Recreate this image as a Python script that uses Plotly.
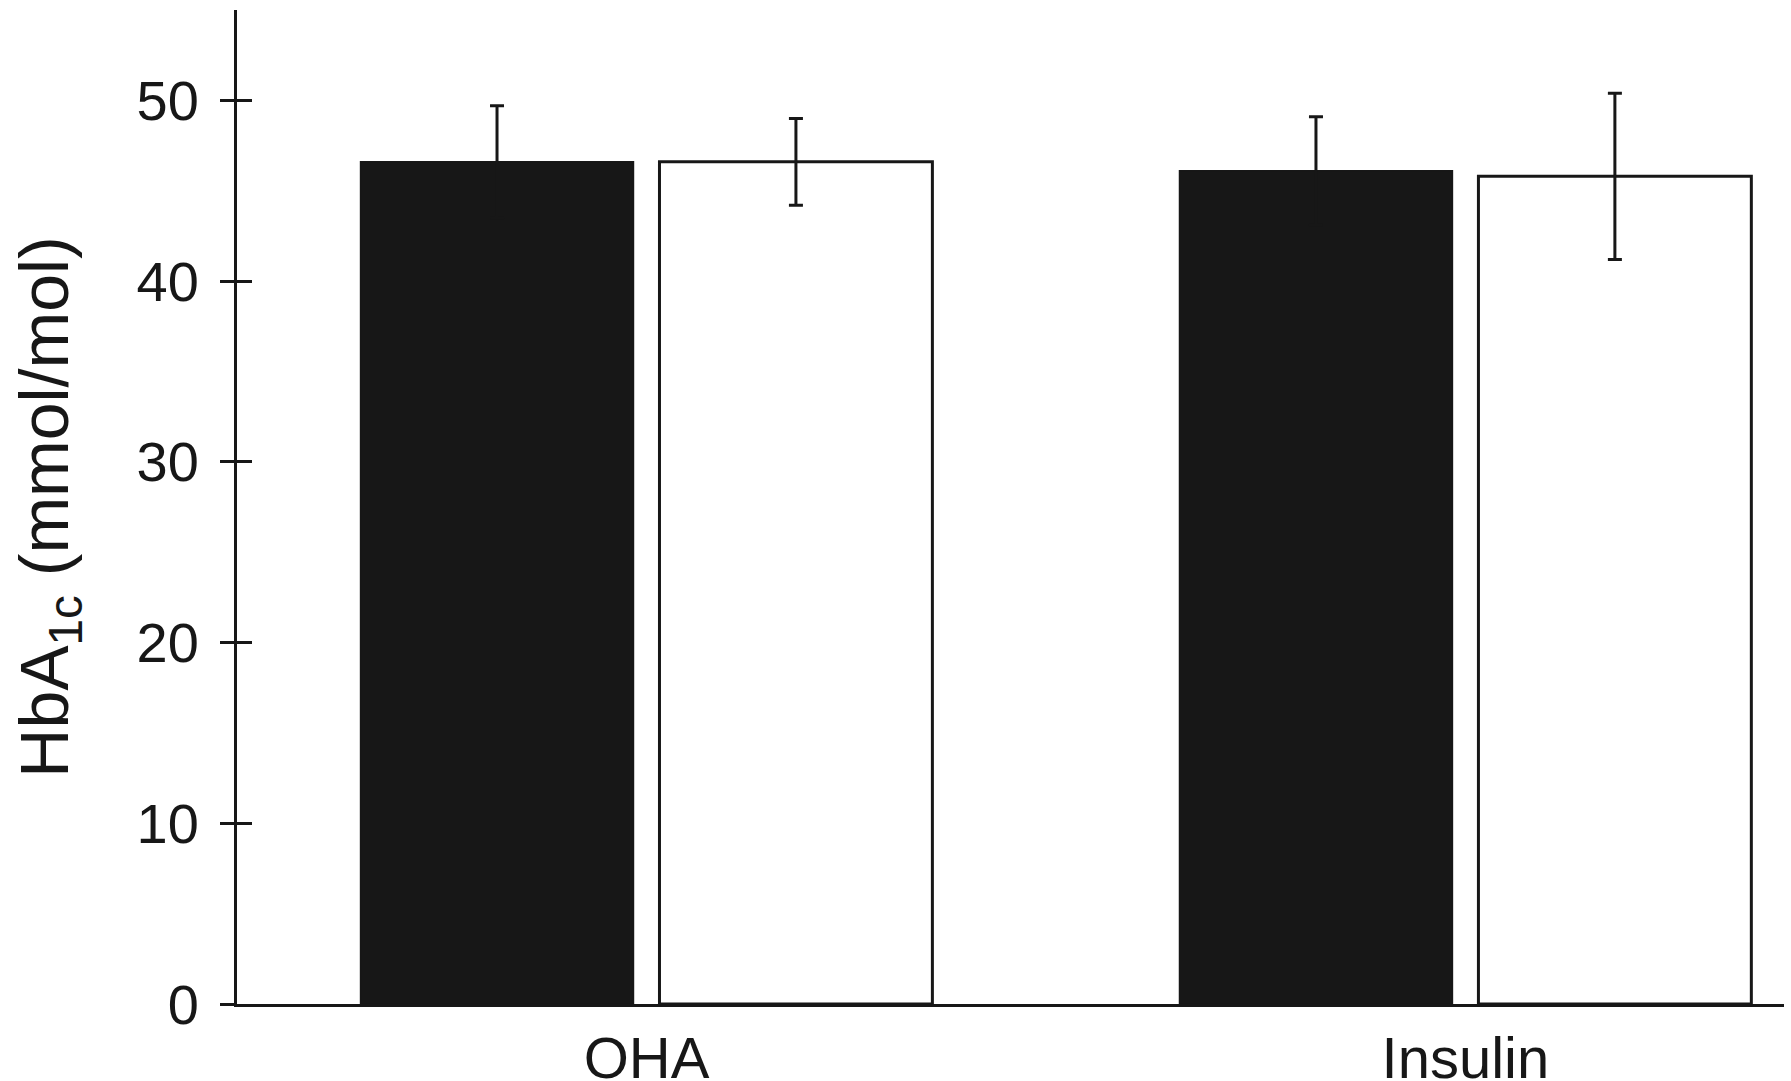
import plotly.graph_objects as go

categories = ["OHA", "Insulin"]
black_values = [46.6, 46.1]
black_errors = [3.1, 3.0]
white_values = [46.6, 45.8]
white_errors = [2.4, 4.6]
y_ticks = [0, 10, 20, 30, 40, 50]

FONT = "Liberation Sans, Arial, Helvetica, sans-serif"
INK = "#171717"

fig = go.Figure()
fig.add_trace(go.Bar(
    x=categories, y=black_values, name="black",
    marker=dict(color=INK, line=dict(color=INK, width=1.5)),
    error_y=dict(type="data", array=black_errors, visible=True,
                 color=INK, thickness=3, width=7),
))
fig.add_trace(go.Bar(
    x=categories, y=white_values, name="white",
    marker=dict(color="white", line=dict(color=INK, width=3)),
    error_y=dict(type="data", array=white_errors, visible=True,
                 color=INK, thickness=3, width=7),
))
# invisible helper trace so the overlaid axis (inner half of the crossing ticks) is drawn
fig.add_trace(go.Scatter(
    x=categories, y=black_values, yaxis="y2", mode="none",
    showlegend=False, hoverinfo="skip",
))

fig.update_layout(
    width=1791, height=1081,
    margin=dict(l=237, r=7, t=10, b=77, autoexpand=False),
    paper_bgcolor="white", plot_bgcolor="white",
    barmode="group", bargap=0.27, bargroupgap=0.087,
    showlegend=False,
    font=dict(family=FONT, color=INK),
    xaxis=dict(
        type="category", range=[-0.5, 1.389], automargin=False,
        showline=True, linecolor=INK, linewidth=3,
        ticks="", showgrid=False, zeroline=False,
        tickfont=dict(size=58, family=FONT, color=INK),
        ticklabelstandoff=1,
    ),
    yaxis=dict(
        range=[0, 55], tickvals=y_ticks, automargin=False,
        showline=True, linecolor=INK, linewidth=3,
        ticks="outside", ticklen=14, tickwidth=3, tickcolor=INK,
        showgrid=False, zeroline=False,
        tickfont=dict(size=56, family=FONT, color=INK),
        ticklabelstandoff=10,
        title=dict(text="HbA<sub>1c</sub> (mmol/mol)",
                   font=dict(size=68, family=FONT, color=INK), standoff=46),
    ),
    yaxis2=dict(
        range=[0, 55], tickvals=y_ticks, overlaying="y", side="left",
        automargin=False,
        showline=False, ticks="inside", ticklen=15, tickwidth=3, tickcolor=INK,
        showticklabels=False, showgrid=False, zeroline=False,
    ),
)

fig.write_html(
    "out.html",
    config={"displayModeBar": False},
    post_script="document.body.style.margin='0';document.body.style.overflow='hidden';",
)
